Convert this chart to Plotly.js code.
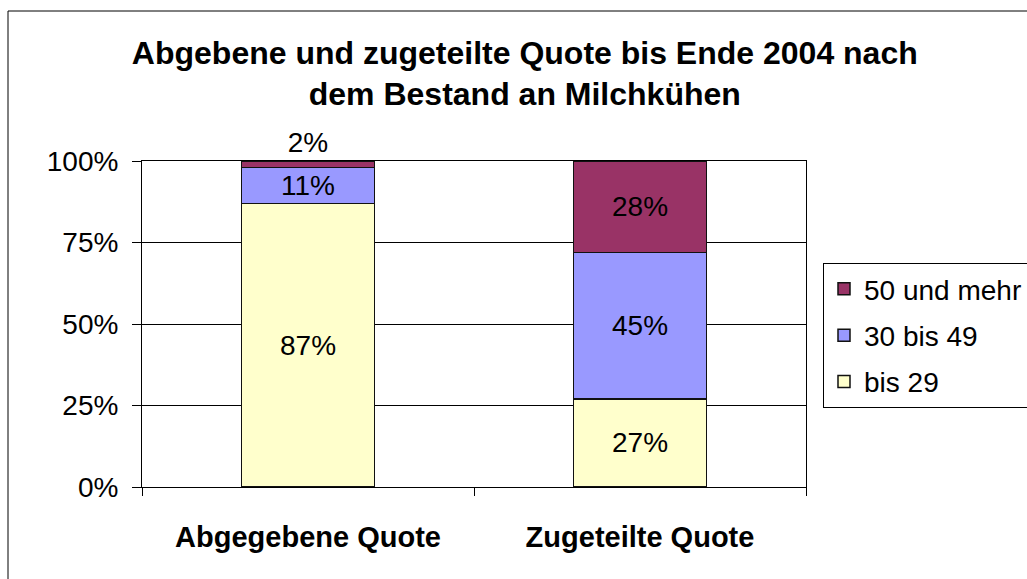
<!DOCTYPE html>
<html>
<head>
<meta charset="utf-8">
<script src="https://cdn.plot.ly/plotly-3.0.1.min.js"></script>
<style>html,body{margin:0;padding:0;background:#fff;}#chart{width:1027px;height:579px;}</style>
</head>
<body>
<div id="chart"></div>
<script>
const categories = ['Abgegebene Quote', 'Zugeteilte Quote'];
const seriesNames = ['bis 29', '30 bis 49', '50 und mehr'];
const bis29 = [87, 27];
const bis49 = [11, 45];
const mehr50 = [2, 28];
const yTickVals = [0, 25, 50, 75, 100];
const yTickText = ['0%', '25%', '50%', '75%', '100%'];
const colors = ['#FFFFCC', '#9999FF', '#993366'];

const FONT = 'Liberation Sans, Arial, sans-serif';
const seriesValues = [bis29, bis49, mehr50];
const positions = [['inside','inside'], ['inside','inside'], ['outside','inside']];

const traces = seriesValues.map((vals, i) => ({
  type: 'bar',
  name: seriesNames[i],
  legendgroup: 'g' + i,
  legendrank: 3 - i,
  x: categories,
  y: vals,
  marker: {color: colors[i], line: {color: '#111', width: 1.5}},
  text: vals.map(v => v + '%'),
  texttemplate: '%{text}',
  textposition: positions[i],
  insidetextanchor: 'middle',
  constraintext: 'none',
  cliponaxis: false,
  textfont: {family: FONT, size: 28, color: '#000'},
  insidetextfont: {family: FONT, size: 28, color: '#000'},
  outsidetextfont: {family: FONT, size: 28, color: '#000'},
  hoverinfo: 'skip'
}));

const layout = {
  width: 1027, height: 579,
  margin: {l: 142, r: 221, t: 161, b: 92, pad: 0, autoexpand: false},
  paper_bgcolor: '#fff', plot_bgcolor: '#fff',
  barmode: 'stack',
  bargap: 0.6,
  title: {
    text: '<b>Abgebene und zugeteilte Quote bis Ende 2004 nach<br>dem Bestand an Milchkühen</b>',
    font: {family: FONT, size: 32, color: '#000'},
    x: 0.511, xref: 'container', xanchor: 'center',
    y: 0.89, yref: 'container', yanchor: 'top'
  },
  font: {family: FONT, size: 28, color: '#000'},
  xaxis: {
    type: 'category',
    automargin: false,
    showline: true, linecolor: '#000', linewidth: 1, mirror: true,
    showgrid: false,
    ticks: 'outside', tickson: 'boundaries', ticklen: 8, tickcolor: '#000',
    tickfont: {family: FONT, size: 29, color: '#000'},
    tickvals: categories,
    ticktext: categories.map(c => '<b>' + c + '</b>'),
    ticklabelstandoff: 24
  },
  yaxis: {
    automargin: false,
    range: [0, 100],
    tickvals: yTickVals,
    ticktext: yTickText,
    showline: true, linecolor: '#000', linewidth: 1, mirror: true,
    showgrid: true, gridcolor: '#000', gridwidth: 1,
    zeroline: false,
    ticks: 'outside', ticklen: 9, tickcolor: '#000',
    tickfont: {family: FONT, size: 28, color: '#000'},
    ticklabelstandoff: 8
  },
  legend: {
    x: 1.0256, xanchor: 'left',
    y: 0.687, yanchor: 'top',
    bgcolor: '#fff', bordercolor: '#000', borderwidth: 1,
    traceorder: 'grouped',
    tracegroupgap: 7,
    font: {family: FONT, size: 28, color: '#000'},
    itemclick: false
  },
  shapes: [
    {type: 'line', xref: 'paper', yref: 'paper', x0: -0.2018, x1: -0.2018, y0: -0.4, y1: 1.4601, line: {color: '#000', width: 1}},
    {type: 'line', xref: 'paper', yref: 'paper', x0: -0.2018, x1: 1.5, y0: 1.4601, y1: 1.4601, line: {color: '#000', width: 1}}
  ],
  showlegend: true
};

Plotly.newPlot('chart', traces, layout, {displayModeBar: false, staticPlot: true});
</script>
</body>
</html>
